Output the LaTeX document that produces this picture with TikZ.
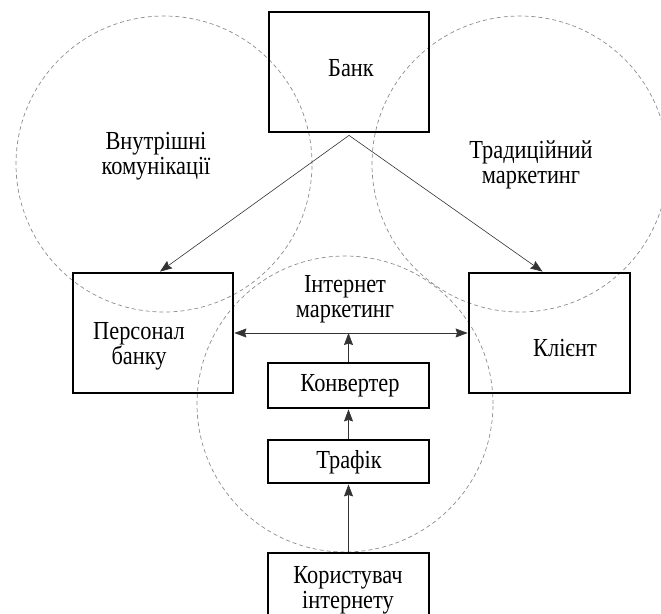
\documentclass[tikz,border=0pt]{standalone}
\usepackage{fontspec}
\setmainfont{Liberation Serif}[FakeStretch=0.86]
\usetikzlibrary{arrows.meta,calc}
\begin{document}
\begin{tikzpicture}[x=1pt,y=-1pt,
  box/.style={draw,line width=2.8pt,inner sep=0pt},
  zone/.style={draw=black!45,dashed,dash pattern=on 4pt off 3pt,line width=0.7pt,circle,inner sep=0pt,minimum size=296pt},
  lbl/.style={align=center,inner sep=0pt,font=\fontsize{26}{25}\selectfont},
  tip/.style={Stealth[length=12pt,width=9pt,inset=1.5pt]},
  arr/.style={-{Stealth[length=12pt,width=9pt,inset=1.5pt]},line width=0.6pt,black!80},
  darr/.style={{Stealth[length=12pt,width=9pt,inset=1.5pt]}-{Stealth[length=12pt,width=9pt,inset=1.5pt]},line width=0.6pt,black!80}]
\useasboundingbox (0,0) rectangle (661,613);
\clip (0,0) rectangle (661,613);
% zones
\node[zone] (zl) at (164,164) {};
\node[zone] (zr) at (520,164) {};
\node[zone] (zb) at (345,404) {};
% boxes
\node[box,minimum width=160pt,minimum height=120pt] (bank) at (349,72) {};
\node[box,minimum width=160pt,minimum height=120pt] (pers) at (153,333) {};
\node[box,minimum width=161pt,minimum height=120pt] (client) at (549.5,333) {};
\node[box,minimum width=161pt,minimum height=45pt] (conv) at (348.5,385.5) {};
\node[box,minimum width=161pt,minimum height=43pt] (traf) at (348.5,461.5) {};
\node[box,minimum width=161pt,minimum height=80pt] (user) at (348.5,593) {};
% labels
\node[lbl] (tbank) at (351,68) {Банк};
\node[lbl] (tzl) at (156,156) {Внутрішні\\комунікації};
\node[lbl] (tzr) at (531,165) {Традиційний\\маркетинг};
\node[lbl] (tzb) at (345,299) {Інтернет\\маркетинг};
\node[lbl] (tpers) at (139,346) {Персонал\\банку};
\node[lbl] (tclient) at (565,348) {Клієнт};
\node[lbl] (tconv) at (350,386) {Конвертер};
\node[lbl] (ttraf) at (349,462) {Трафік};
\node[lbl] (tuser) at (348,590) {Користувач\\інтернету};
% connectors
\coordinate (bs) at ($(bank.south)+(0,2)$);
\coordinate (pin) at ($(pers.north)+(7,0)$);
\coordinate (cin) at ($(client.north)+(-7,0)$);
\draw[arr] (bs) -- (pin);
\draw[arr] (bs) -- (cin);
\draw[darr] (pers.east) -- (client.west);
\draw[arr] (conv.north) -- (conv.north |- pers.east);
\draw[arr] (traf.north) -- (conv.south);
\draw[arr] (user.north) -- (traf.south);
\end{tikzpicture}
\end{document}
